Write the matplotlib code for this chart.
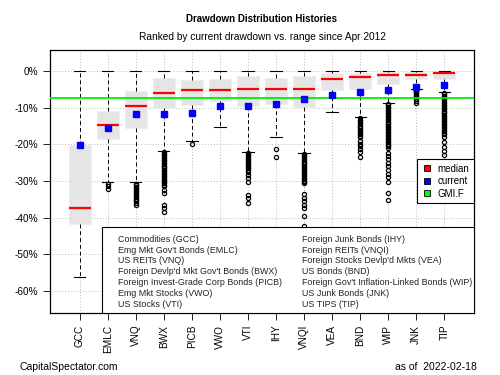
import matplotlib
matplotlib.use("Agg")
import matplotlib.pyplot as plt
from matplotlib.lines import Line2D
from matplotlib.patches import Rectangle

plt.rcParams['font.family'] = ['Liberation Sans', 'DejaVu Sans']

# drawdown distributions (%)
tickers = ['GCC', 'EMLC', 'VNQ', 'BWX', 'PICB', 'VWO', 'VTI', 'IHY',
           'VNQI', 'VEA', 'BND', 'WIP', 'JNK', 'TIP']
q3 = [-20.2, -11.0, -5.4, -2.0, -2.4, -2.3, -1.4, -1.8, -1.4, -0.5, -0.5, -0.2, -0.2, -0.2]
med = [-37.3, -14.8, -9.6, -5.9, -5.3, -5.3, -5.0, -5.0, -4.9, -2.2, -1.6, -1.1, -1.1, -0.6]
q1 = [-41.6, -18.6, -15.5, -10.1, -9.3, -8.1, -9.6, -9.0, -9.9, -5.1, -5.0, -3.6, -2.2, -2.3]
whis_lo = [-56.1, -30.4, -30.4, -21.8, -19.1, -15.4, -22.1, -18.0, -22.4, -11.3, -12.6, -8.7, -4.8, -5.7]
whis_hi = [0, 0, 0, 0, 0, 0, 0, 0, 0, 0, 0, 0, 0, 0]
current = [-20.3, -15.5, -11.8, -11.8, -11.4, -9.6, -9.6, -9.0, -7.7, -6.6, -5.8, -5.1, -4.4, -3.9]
gmif = -7.3

outliers = [
    [],
    [-30.9, -31.5, -32.2],
    [-30.8, -31.2, -31.6, -32.0, -32.4, -32.8, -33.2, -33.6, -34.0, -34.4, -34.8,
     -35.2, -35.6, -36.0, -36.6],
    [-22.2, -22.6, -23.0, -23.4, -23.8, -24.2, -24.6, -25.0, -25.4, -25.8, -26.2,
     -26.6, -27.0, -27.4, -27.8, -28.2, -28.6, -29.0, -29.4, -29.8, -30.2, -30.6,
     -31.0, -31.5, -32.4, -33.2, -36.6, -37.5, -38.6],
    [-19.8],
    [],
    [-22.5, -22.9, -23.3, -23.7, -24.1, -24.5, -24.9, -25.3, -25.7, -26.1, -26.5,
     -27.0, -27.5, -28.4, -29.3, -30.2, -33.8, -34.7, -35.9],
    [-21.4, -23.4],
    [-22.7, -23.1, -23.5, -23.9, -24.3, -24.7, -25.1, -25.5, -25.9, -26.3, -26.7,
     -27.1, -27.5, -27.9, -28.3, -28.7, -29.1, -29.5, -29.9, -30.3, -30.6, -33.5,
     -34.7, -35.6, -36.5, -37.4, -39.6, -42.3],
    [],
    [-12.9, -13.3, -13.7, -14.1, -14.5, -14.9, -15.3, -15.7, -16.1, -16.5, -16.9,
     -17.3, -17.7, -18.0, -19.1, -19.8, -20.5, -21.4, -22.1, -23.6],
    [-9.0, -9.4, -9.8, -10.2, -10.6, -11.0, -11.4, -11.8, -12.2, -12.6, -13.0,
     -13.4, -13.8, -14.2, -14.6, -15.0, -15.4, -15.8, -16.2, -16.6, -17.0, -17.4,
     -17.8, -18.2, -18.6, -19.0, -19.4, -19.8, -20.2, -20.6, -20.9, -22.5, -23.2,
     -24.0, -25.0, -26.0, -27.0, -28.0, -29.0, -30.2, -33.3, -35.1],
    [-5.1, -5.4, -5.7, -6.0, -6.3, -6.6, -6.9, -7.2, -7.6, -8.3, -8.8],
    [-6.0, -6.4, -6.8, -7.2, -7.6, -8.0, -8.4, -8.8, -9.2, -9.6, -10.0, -10.4,
     -10.8, -11.2, -11.6, -12.0, -12.4, -12.8, -13.2, -13.6, -14.0, -14.4, -14.8,
     -15.2, -15.6, -16.0, -16.4, -16.8, -17.1, -18.0, -19.4, -20.7, -21.8, -23.0],
]

names_left = ['Commodities (GCC)', "Emg Mkt Gov't Bonds (EMLC)", "US REITs (VNQ)",
              "Foreign Devlp'd Mkt Gov't Bonds (BWX)", "Foreign Invest-Grade Corp Bonds (PICB)",
              "Emg Mkt Stocks (VWO)", "US Stocks (VTI)"]
names_right = ["Foreign Junk Bonds (IHY)", "Foreign REITs (VNQI)",
               "Foreign Stocks Devlp'd Mkts (VEA)", "US Bonds (BND)",
               "Foreign Gov't Inflation-Linked Bonds (WIP)", "US Junk Bonds (JNK)",
               "US TIPS (TIP)"]

fig = plt.figure(figsize=(5, 3.75), dpi=100)
ax = fig.add_axes([0.1, 0.1653, 0.848, 0.7014])

pos = list(range(1, len(tickers) + 1))
stats = []
for i in range(len(tickers)):
    stats.append({'med': med[i], 'q1': q1[i], 'q3': q3[i], 'whislo': whis_lo[i],
                  'whishi': whis_hi[i], 'fliers': outliers[i]})

ax.bxp(stats, positions=pos, widths=0.8, capwidths=0.4, patch_artist=True,
       boxprops=dict(facecolor='#e5e5e5', edgecolor='#eeeeee', linewidth=0.5),
       medianprops=dict(color='red', linewidth=1.6),
       whiskerprops=dict(color='black', linestyle=(0, (4, 3)), linewidth=0.7),
       capprops=dict(color='black', linewidth=0.8),
       flierprops=dict(marker='o', markerfacecolor='none', markeredgecolor='black',
                       markersize=3.0, markeredgewidth=0.9),
       zorder=2)

ax.plot(pos, current, 's', color='blue', markersize=4, zorder=4)
ax.axhline(gmif, color='#00ee00', linewidth=1.3, zorder=3)

ax.set_xlim(-0.06, 15.06)
ax.set_ylim(-66, 5.7)
yt = [-60, -50, -40, -30, -20, -10, 0]
ax.set_yticks(yt)
ax.set_yticklabels([f'{v}%' for v in yt], fontsize=7.2)
ax.set_xticks(pos)
ax.set_xticklabels(tickers, rotation=90, fontsize=7.2)
ax.tick_params(axis='both', length=5, width=0.6, pad=3.5)
for v in yt:
    ax.axhline(v, color='#bbbbbb', linestyle=(0, (1, 2)), linewidth=0.7, zorder=0)
for p in pos:
    ax.axvline(p, color='#bbbbbb', linestyle=(0, (1, 2)), linewidth=0.7, zorder=0)
for s in ax.spines.values():
    s.set_linewidth(0.9)

# ticker name key box
box_x0, box_y1 = 0.122, 0.328
ax.add_patch(Rectangle((box_x0, 0), 1 - box_x0, box_y1, transform=ax.transAxes,
                       facecolor='white', edgecolor='black', linewidth=0.8, zorder=6))
row_h = 0.0411
for i, t in enumerate(names_left):
    ax.text(0.160, 0.280 - i * row_h, t, transform=ax.transAxes, fontsize=6.4,
            va='center', ha='left', color='#222222', zorder=7)
for i, t in enumerate(names_right):
    ax.text(0.594, 0.280 - i * row_h, t, transform=ax.transAxes, fontsize=6.4,
            va='center', ha='left', color='#222222', zorder=7)

handles = [Line2D([], [], marker='s', ls='none', mfc='red', mec='black', ms=5, mew=0.6),
           Line2D([], [], marker='s', ls='none', mfc='blue', mec='black', ms=5, mew=0.6),
           Line2D([], [], marker='s', ls='none', mfc='#00ff00', mec='black', ms=5, mew=0.6)]
leg = ax.legend(handles, ['median', 'current', 'GMI.F'], loc='upper right',
                bbox_to_anchor=(1.0, 0.586), borderaxespad=0, fontsize=7,
                fancybox=False, framealpha=1, edgecolor='black',
                handlelength=1.0, handletextpad=0.6, labelspacing=0.25,
                borderpad=0.5)
leg.get_frame().set_linewidth(0.8)
leg.set_zorder(8)

fig.text(0.524, 0.949, 'Drawdown Distribution Histories', ha='center', va='center',
         fontsize=7.0, fontweight='bold')
fig.text(0.524, 0.901, 'Ranked by current drawdown vs. range since Apr 2012',
         ha='center', va='center', fontsize=7.3)
fig.text(0.04, 0.022, 'CapitalSpectator.com', ha='left', va='center', fontsize=7.5)
fig.text(0.954, 0.022, 'as of  2022-02-18', ha='right', va='center', fontsize=7.5)

fig.savefig('out.png', dpi=100)
